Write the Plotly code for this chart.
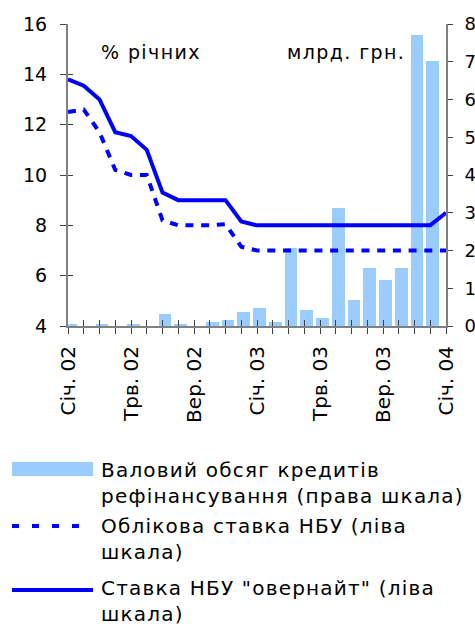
import plotly.graph_objects as go

# ---------------- data ----------------
months = ["Січ. 02", "Лют. 02", "Бер. 02", "Кві. 02", "Трв. 02", "Чер. 02",
          "Лип. 02", "Сер. 02", "Вер. 02", "Жов. 02", "Лис. 02", "Гру. 02",
          "Січ. 03", "Лют. 03", "Бер. 03", "Кві. 03", "Трв. 03", "Чер. 03",
          "Лип. 03", "Сер. 03", "Вер. 03", "Жов. 03", "Лис. 03", "Гру. 03",
          "Січ. 04"]
tick_labels = ["Січ. 02", "Трв. 02", "Вер. 02", "Січ. 03", "Трв. 03", "Вер. 03", "Січ. 04"]

refinancing = [0.05, 0.0, 0.05, 0.0, 0.05, 0.0, 0.33, 0.05, 0.0, 0.10, 0.17, 0.37,
               0.48, 0.10, 2.07, 0.42, 0.21, 3.12, 0.69, 1.54, 1.22, 1.54, 7.71, 7.02]
discount_rate = [12.5, 12.6, 11.7, 10.2, 10.0, 10.0, 8.2, 8.0, 8.0, 8.0, 8.05, 7.15,
                 7.0, 7.0, 7.0, 7.0, 7.0, 7.0, 7.0, 7.0, 7.0, 7.0, 7.0, 7.0, 7.0]
overnight_rate = [13.8, 13.55, 13.0, 11.7, 11.55, 11.0, 9.3, 9.0, 9.0, 9.0, 9.0, 8.15,
                  8.0, 8.0, 8.0, 8.0, 8.0, 8.0, 8.0, 8.0, 8.0, 8.0, 8.0, 8.0, 8.5]

legend_names = ["Валовий обсяг кредитів<br>рефінансування (права шкала)",
                "Облікова ставка НБУ (ліва<br>шкала)",
                "Ставка НБУ \"овернайт\" (ліва<br>шкала)"]

# ---------------- style ----------------
FONT = "DejaVu Sans"
BAR_C = "#99CCFF"
LINE_C = "#0000FF"
AX_C = "#808080"
TICK_C = "#404040"
W, H = 475, 626
L, R, T, B = 68, 446, 24, 326   # plot area in pixels


def px(x):
    return (x - L) / (R - L)


def py(y):
    return (B - y) / (B - T)


def spaced(text, sp):
    lines = text.split("<br>")
    return "<br>".join(f'<span style="letter-spacing:{sp}px">{ln}</span>' for ln in lines)


fig = go.Figure()

fig.add_trace(go.Bar(x=months[:len(refinancing)], y=refinancing, yaxis="y",
                     marker=dict(color=BAR_C, line=dict(width=0)),
                     width=0.8, offset=-0.24, showlegend=False,
                     name="Валовий обсяг кредитів рефінансування"))
fig.add_trace(go.Scatter(x=months, y=discount_rate, yaxis="y2", mode="lines",
                         line=dict(color=LINE_C, width=4, dash="8px,7.7px"),
                         showlegend=False, name="Облікова ставка НБУ"))
fig.add_trace(go.Scatter(x=months, y=overnight_rate, yaxis="y2", mode="lines",
                         line=dict(color=LINE_C, width=4),
                         showlegend=False, name="Ставка НБУ \"овернайт\""))
# helper trace so that the overlay tick axes are drawn
fig.add_trace(go.Scatter(x=[None], y=[None], xaxis="x2", yaxis="y3",
                         showlegend=False, hoverinfo="skip"))

fig.update_layout(
    width=W, height=H,
    margin=dict(l=L, r=W - R, t=T, b=H - B, autoexpand=False),
    paper_bgcolor="white", plot_bgcolor="white",
    font=dict(family=FONT, size=19, color="black"),
    bargap=0,
    xaxis=dict(type="category", categoryorder="array", categoryarray=months,
               range=[0, len(months) - 1],
               tickmode="array", tickvals=months,
               ticktext=[m if m in tick_labels else "" for m in months],
               tickangle=-90, tickfont=dict(size=20),
               ticks="outside", ticklen=6, tickcolor=TICK_C, tickwidth=1,
               showline=True, linecolor=AX_C, linewidth=2,
               showgrid=False, zeroline=False, ticklabelstandoff=4),
    xaxis2=dict(overlaying="x", anchor="y", side="bottom",
                range=[0, len(months) - 1], tickmode="linear", tick0=0, dtick=1,
                ticks="inside", ticklen=6, tickcolor=TICK_C, tickwidth=1,
                showticklabels=False, showline=False, showgrid=False, zeroline=False),
    yaxis=dict(range=[0, 8], dtick=1, side="right", tickfont=dict(size=18),
               ticks="outside", ticklen=5, tickcolor=TICK_C,
               showline=True, linecolor=AX_C, linewidth=2,
               showgrid=False, zeroline=False, ticklabelstandoff=8),
    yaxis2=dict(range=[4, 16], dtick=2, side="left", overlaying="y",
                ticks="outside", ticklen=6, tickcolor=TICK_C,
                showline=True, linecolor=AX_C, linewidth=2,
                showgrid=False, zeroline=False, ticklabelstandoff=9),
    yaxis3=dict(range=[4, 16], dtick=2, side="left", overlaying="y", anchor="x",
                ticks="inside", ticklen=5, tickcolor=TICK_C,
                showticklabels=False, showline=False, showgrid=False, zeroline=False),
    showlegend=False,
)

# unit annotations inside the plot
fig.add_annotation(x=px(99), y=py(52), xref="paper", yref="paper",
                   text=spaced("% річних", 1.4),
                   showarrow=False, xanchor="left", yanchor="middle", font=dict(size=19))
fig.add_annotation(x=px(407), y=py(52), xref="paper", yref="paper",
                   text=spaced("млрд. грн.", 1.4),
                   showarrow=False, xanchor="right", yanchor="middle", font=dict(size=19))

# custom legend below the chart
fig.add_shape(type="rect", xref="paper", yref="paper",
              x0=px(12), x1=px(93), y0=py(462), y1=py(476),
              fillcolor=BAR_C, line=dict(width=0))
fig.add_shape(type="line", xref="paper", yref="paper",
              x0=px(12), x1=px(91), y0=py(526), y1=py(526),
              line=dict(color=LINE_C, width=4, dash="7px,13px"))
fig.add_shape(type="line", xref="paper", yref="paper",
              x0=px(12), x1=px(93), y0=py(590), y1=py(590),
              line=dict(color=LINE_C, width=4))
for name, yc in zip(legend_names, [483, 539, 600.5]):
    fig.add_annotation(x=px(99), y=py(yc), xref="paper", yref="paper",
                       text=spaced(name, 1.2),
                       showarrow=False, xanchor="left", yanchor="middle", align="left",
                       font=dict(size=20))

fig.write_html("out.html", config={"displayModeBar": False},
               post_script="document.body.style.margin='0';"
                           "document.body.style.overflow='hidden';")
